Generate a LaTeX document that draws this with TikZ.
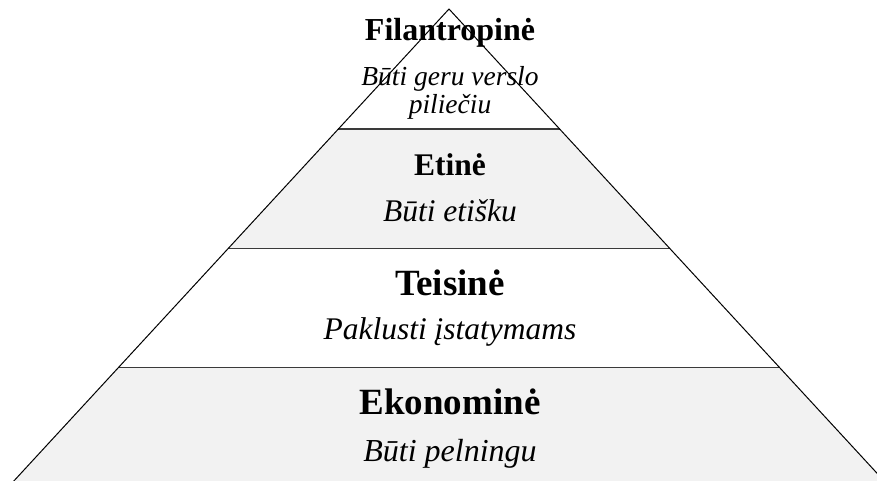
\documentclass[tikz,border=0pt]{standalone}
\usepackage{fontspec}
\setmainfont{Liberation Serif}
\definecolor{tierfill}{HTML}{F2F2F2}
\definecolor{rim}{HTML}{3A3A3A}
\begin{document}
\begin{tikzpicture}[x=1pt,y=-1pt,
  side/.style={draw=black, line width=1pt},
  divider/.style={draw=rim, line width=1.6pt},
  title/.style={anchor=base, inner sep=0pt, font=\bfseries\fontsize{#1}{#1}\selectfont},
  motto/.style={anchor=base, inner sep=0pt, font=\itshape\fontsize{#1}{#1}\selectfont}]
\useasboundingbox (0,0) rectangle (877,481);
\clip (0,0) rectangle (877,481);
% corners of the four tiers
\coordinate (apex) at (449,9);
\coordinate (l1) at (338.4,129);   \coordinate (r1) at (559.6,129);
\coordinate (l2) at (228.2,248.5); \coordinate (r2) at (669.8,248.5);
\coordinate (l3) at (118.5,367.5); \coordinate (r3) at (779.5,367.5);
\coordinate (l4) at (8.3,487);     \coordinate (r4) at (889.7,487);
% tier fills
\fill[white] (apex) -- (r1) -- (l1) -- cycle;
\fill[tierfill] (l1) -- (r1) -- (r2) -- (l2) -- cycle;
\fill[white] (l2) -- (r2) -- (r3) -- (l3) -- cycle;
\fill[tierfill] (l3) -- (r3) -- (r4) -- (l4) -- cycle;
% dividing lines and sides
\draw[divider] (l1) -- (r1);
\draw[divider] (l2) -- (r2);
\draw[divider] (l3) -- (r3);
\draw[side] (l4) -- (apex) -- (r4);
% labels
\node[title=32] (t1) at (450,40.5) {Filantropinė};
\node[motto=27.5] (m1a) at (450,86) {Būti geru verslo};
\node[motto=27.5] (m1b) at (450,114) {piliečiu};
\node[title=31.5] (t2) at (450,175.5) {Etinė};
\node[motto=31.5] (m2) at (450,221) {Būti etišku};
\node[title=37] (t3) at (450,295) {Teisinė};
\node[motto=31.5] (m3) at (450,339.5) {Paklusti įstatymams};
\node[title=37] (t4) at (450,414) {Ekonominė};
\node[motto=32] (m4) at (450,461) {Būti pelningu};
\end{tikzpicture}
\end{document}
